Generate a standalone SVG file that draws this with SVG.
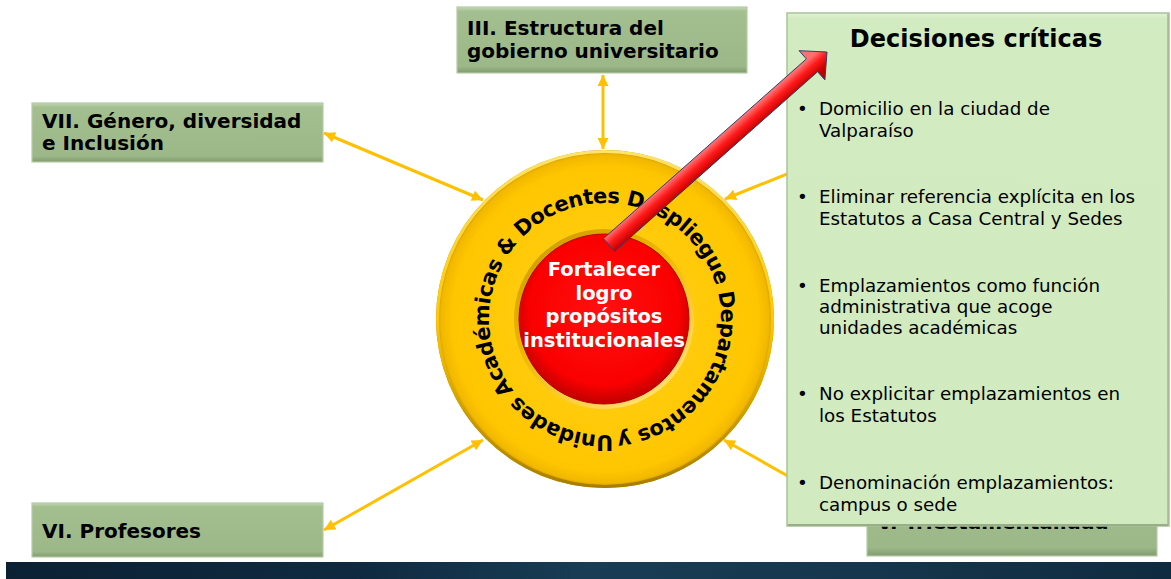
<svg xmlns="http://www.w3.org/2000/svg" width="1171" height="579" viewBox="0 0 1171 579">
<defs>
<style>
.box{fill:url(#boxg);stroke:#B7CCA6;stroke-width:1.2}
.lbl{font-family:"DejaVu Sans",Verdana,sans-serif;font-weight:bold;font-size:20px;fill:#000}
.item{font-family:"DejaVu Sans",Verdana,sans-serif;font-size:18.3px;fill:#000}
.con{stroke:#FFC000;stroke-width:3;fill:none}
.inner{font-family:"DejaVu Sans",Verdana,sans-serif;font-weight:bold;font-size:19.5px;fill:#fff;text-anchor:middle}
.ring{font-family:"DejaVu Sans",Verdana,sans-serif;font-weight:bold;font-size:21px;fill:#000;letter-spacing:-0.5px}
</style>
<linearGradient id="boxg" x1="0" y1="0" x2="0" y2="1">
<stop offset="0" stop-color="#C3D6B4"/>
<stop offset="0.07" stop-color="#A3BF8F"/>
<stop offset="0.9" stop-color="#9CB888"/>
<stop offset="1" stop-color="#809B6E"/>
</linearGradient>
<linearGradient id="decg" x1="0" y1="0" x2="0" y2="1">
<stop offset="0" stop-color="#E4F3D8"/>
<stop offset="0.01" stop-color="#D3EBC1"/>
<stop offset="0.995" stop-color="#D1EABF"/>
<stop offset="1" stop-color="#9FB68F"/>
</linearGradient>
<radialGradient id="yel" cx="0.5" cy="0.5" r="0.5">
<stop offset="0" stop-color="#FFD21C"/>
<stop offset="0.9" stop-color="#FFC600"/>
<stop offset="0.97" stop-color="#F2B800"/>
<stop offset="1" stop-color="#B88A00"/>
</radialGradient>
<linearGradient id="rim" x1="0" y1="0" x2="0" y2="1">
<stop offset="0" stop-color="#FFE46A"/>
<stop offset="0.5" stop-color="#FFC800"/>
<stop offset="1" stop-color="#A87E00"/>
</linearGradient>
<linearGradient id="inset" x1="0" y1="0" x2="0.7" y2="1">
<stop offset="0" stop-color="#C99600"/>
<stop offset="0.5" stop-color="#F0B800"/>
<stop offset="1" stop-color="#FFE070"/>
</linearGradient>
<radialGradient id="redg" cx="0.5" cy="0.45" r="0.55">
<stop offset="0" stop-color="#FF1010"/>
<stop offset="0.8" stop-color="#FA0000"/>
<stop offset="1" stop-color="#C00000"/>
</radialGradient>
<linearGradient id="arrg" gradientUnits="userSpaceOnUse" x1="603.4" y1="238.6" x2="614.6" y2="251.4">
<stop offset="0" stop-color="#FF7070"/>
<stop offset="0.45" stop-color="#FF1A1A"/>
<stop offset="1" stop-color="#C00000"/>
</linearGradient>
<linearGradient id="foot" x1="0" y1="0" x2="1" y2="0">
<stop offset="0" stop-color="#0B2133"/>
<stop offset="0.3" stop-color="#0F2A40"/>
<stop offset="0.5" stop-color="#183D55"/>
<stop offset="0.65" stop-color="#17394F"/>
<stop offset="0.8" stop-color="#14344A"/>
<stop offset="1" stop-color="#0F2B40"/>
</linearGradient>
<clipPath id="belowdec"><rect x="860" y="526" width="300" height="40"/></clipPath>
<marker id="ah" viewBox="0 0 10 10" refX="10" refY="5" markerUnits="userSpaceOnUse" markerWidth="12" markerHeight="11" orient="auto-start-reverse">
<path d="M0,0 L10,5 L0,10 z" fill="#FFC000"/>
</marker>
<path id="ringpath" d="M605,435 A116,116 0 1 1 605,203 A116,116 0 1 1 605,435"/>
</defs>

<rect x="0" y="0" width="1171" height="579" fill="#fff"/>
<rect x="6" y="562" width="1165" height="17" fill="url(#foot)"/>

<g id="connectors">
<line class="con" x1="603" y1="75" x2="603" y2="149" marker-start="url(#ah)" marker-end="url(#ah)"/>
<line class="con" x1="324" y1="133" x2="483" y2="200" marker-start="url(#ah)" marker-end="url(#ah)"/>
<line class="con" x1="324" y1="530" x2="483" y2="440" marker-start="url(#ah)" marker-end="url(#ah)"/>
<line class="con" x1="866" y1="142" x2="725" y2="199" marker-end="url(#ah)"/>
<line class="con" x1="866" y1="520" x2="724" y2="440" marker-end="url(#ah)"/>
</g>

<g id="node-iii">
<rect class="box" x="457" y="7" width="290" height="66"/>
<text class="lbl" x="467" y="35">III. Estructura del</text>
<text class="lbl" x="467" y="58">gobierno universitario</text>
</g>

<g id="node-vii">
<rect class="box" x="32" y="103" width="291" height="59"/>
<text class="lbl" x="42" y="128">VII. Género, diversidad</text>
<text class="lbl" x="42" y="150">e Inclusión</text>
</g>

<g id="node-vi">
<rect class="box" x="32" y="503" width="291" height="54"/>
<text class="lbl" x="42" y="538">VI. Profesores</text>
</g>

<g id="node-iv">
<rect class="box" x="866" y="103" width="291" height="59"/>
</g>

<g id="node-v">
<rect class="box" x="867" y="470" width="290" height="86"/>
<text class="lbl" x="877" y="529" clip-path="url(#belowdec)">V. Triestamentalidad</text>
</g>

<g id="node-center">
<circle cx="605" cy="319" r="169" fill="url(#yel)"/>
<circle cx="605" cy="319" r="167.5" fill="none" stroke="url(#rim)" stroke-width="3"/>
<circle cx="604" cy="319" r="90" fill="url(#inset)"/>
<circle cx="604" cy="319" r="85" fill="url(#redg)" stroke="#B80000" stroke-width="1"/>
<text class="ring" transform="rotate(-4 605 319)"><textPath href="#ringpath">Unidades Académicas &amp; Docentes Despliegue Departamentos y </textPath></text>
<text class="inner" x="604" y="276">Fortalecer</text>
<text class="inner" x="604" y="299.5">logro</text>
<text class="inner" x="604" y="323">propósitos</text>
<text class="inner" x="604" y="346.5">institucionales</text>
</g>

<g id="node-decisiones">
<rect x="787" y="13" width="382" height="513" fill="url(#decg)" stroke="#A9C297" stroke-width="1.5"/>
<line x1="788" y1="525" x2="1168" y2="525" stroke="#98AE88" stroke-width="2"/>
<line x1="1168" y1="14" x2="1168" y2="525" stroke="#A3B994" stroke-width="1.5"/>
<text x="976" y="47" font-family="DejaVu Sans, Verdana, sans-serif" font-weight="bold" font-size="24" text-anchor="middle" fill="#000">Decisiones críticas</text>
<g class="item">
<text x="797" y="115">•</text>
<text x="819" y="115">Domicilio en la ciudad de</text>
<text x="819" y="137">Valparaíso</text>
<text x="797" y="203">•</text>
<text x="819" y="203">Eliminar referencia explícita en los</text>
<text x="819" y="225">Estatutos a Casa Central y Sedes</text>
<text x="797" y="292">•</text>
<text x="819" y="292">Emplazamientos como función</text>
<text x="819" y="313">administrativa que acoge</text>
<text x="819" y="334">unidades académicas</text>
<text x="797" y="400">•</text>
<text x="819" y="400">No explicitar emplazamientos en</text>
<text x="819" y="422">los Estatutos</text>
<text x="797" y="489">•</text>
<text x="819" y="489">Denominación emplazamientos:</text>
<text x="819" y="511">campus o sede</text>
</g>
</g>

<g id="red-arrow">
<polygon points="603.4,238.6 806.4,58.9 799.1,50.7 827,52 824.9,79.9 817.6,71.7 614.6,251.4" fill="url(#arrg)" stroke="#2E3F6B" stroke-width="1" stroke-linejoin="miter"/>
</g>
</svg>
